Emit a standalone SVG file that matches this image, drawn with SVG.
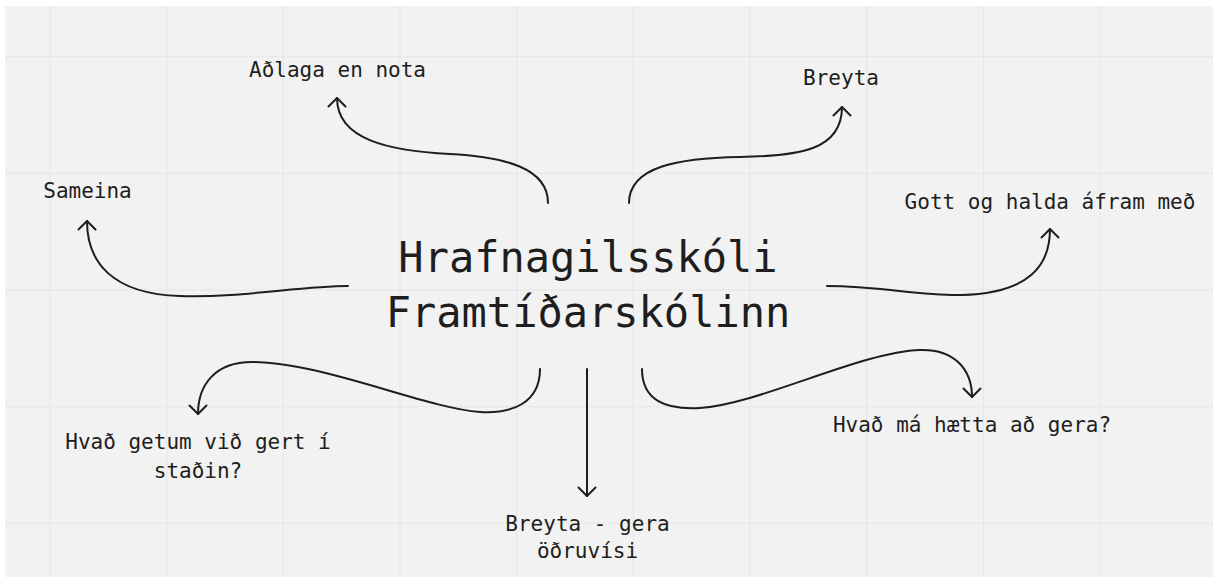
<svg xmlns="http://www.w3.org/2000/svg" width="1213" height="577" viewBox="0 0 1213 577">
  <style>
    .bg { fill: #f2f2f2; }
    .grid { stroke: #e5e5e5; stroke-width: 1; fill: none; }
    .edge { fill: none; stroke: #1e1e1e; stroke-width: 2; stroke-linecap: round; stroke-linejoin: round; }
    .label { font-family: "DejaVu Sans Mono", "Liberation Mono", monospace; font-size: 21px; fill: #1e1e1e; text-anchor: middle; }
    .title { font-family: "DejaVu Sans Mono", "Liberation Mono", monospace; font-size: 42px; fill: #1e1e1e; text-anchor: middle; }
  </style>
  <defs>
    <marker id="arrow" markerUnits="userSpaceOnUse" orient="auto" refX="0" refY="0" markerWidth="20" markerHeight="20" overflow="visible">
      <path d="M-8.5,-8.5 L0,0 L-8.5,8.5" fill="none" stroke="#1e1e1e" stroke-width="2" stroke-linecap="round" stroke-linejoin="round"/>
    </marker>
  </defs>
  <rect x="0" y="0" width="1213" height="577" fill="#ffffff"/>
  <rect class="bg" x="5" y="6" width="1208" height="571"/>
  <g id="grid" class="grid">
    <path d="M50,6V577 M166.7,6V577 M283.3,6V577 M400,6V577 M516.7,6V577 M633.3,6V577 M750,6V577 M866.7,6V577 M983.3,6V577 M1100,6V577"/>
    <path d="M5,56.7H1213 M5,173.3H1213 M5,290H1213 M5,406.7H1213 M5,523.3H1213"/>
  </g>
  <g id="connectors">
    <path class="edge" marker-end="url(#arrow)" d="M548,203 C548,168 505,157 450,154 C390,151 337,140 337,98"/>
    <path class="edge" marker-end="url(#arrow)" d="M629,203 C629,166 680,158 740,157 C800,156 842,150 842,107"/>
    <path class="edge" marker-end="url(#arrow)" d="M348,286 C300,286 240,298 180,296 C112,294 87,262 87,221"/>
    <path class="edge" marker-end="url(#arrow)" d="M827,286 C880,286 920,296 962,295 C1030,293 1050,265 1050,229"/>
    <path class="edge" marker-end="url(#arrow)" d="M540,369 C540,403 512,414 480,412 C425,408 322,362 252,362 C215,362 198,385 198,414"/>
    <path class="edge" marker-end="url(#arrow)" d="M587,369 L587,496"/>
    <path class="edge" marker-end="url(#arrow)" d="M642,369 C642,400 665,410 700,408 C760,404 860,352 920,350 C955,349 972,370 972,397"/>
  </g>
  <g id="center">
    <text class="title" x="588" y="272">Hrafnagilsskóli</text>
    <text class="title" x="588" y="327">Framtíðarskólinn</text>
  </g>
  <g id="node-adlaga"><text class="label" x="337.5" y="77">Aðlaga en nota</text></g>
  <g id="node-breyta"><text class="label" x="841" y="85">Breyta</text></g>
  <g id="node-sameina"><text class="label" x="87.5" y="198">Sameina</text></g>
  <g id="node-gott"><text class="label" x="1050" y="209">Gott og halda áfram með</text></g>
  <g id="node-hvad-getum">
    <text class="label" x="198" y="449">Hvað getum við gert í</text>
    <text class="label" x="198" y="478">staðin?</text>
  </g>
  <g id="node-breyta-gera">
    <text class="label" x="587.5" y="531">Breyta - gera</text>
    <text class="label" x="587.5" y="558">öðruvísi</text>
  </g>
  <g id="node-hvad-ma"><text class="label" x="972" y="432">Hvað má hætta að gera?</text></g>
</svg>
